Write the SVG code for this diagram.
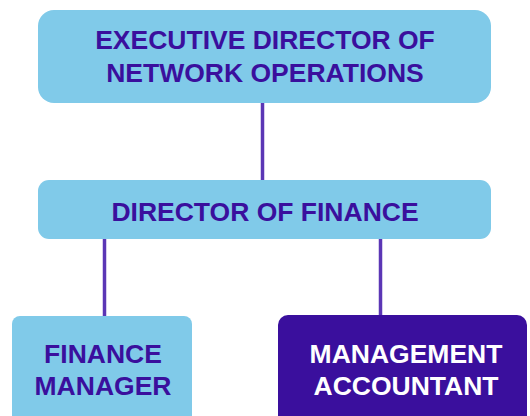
<svg xmlns="http://www.w3.org/2000/svg" width="530" height="416" viewBox="0 0 530 416">
<style>
.light{fill:#80CAE9}
.dark{fill:#3A0F9D}
.t{font-family:"Liberation Sans",Arial,sans-serif;font-weight:bold;font-size:26.5px;text-anchor:middle;fill:#3A0F9D}
.tw{fill:#FFFFFF}
.conn{stroke:#5B36B5;stroke-width:3.5;fill:none}
</style>
<rect width="530" height="416" fill="#FFFFFF"/>
<g id="connectors">
<line class="conn" x1="262.5" y1="102" x2="262.5" y2="181"/>
<line class="conn" x1="104.5" y1="238" x2="104.5" y2="317"/>
<line class="conn" x1="380.5" y1="238" x2="380.5" y2="317"/>
</g>
<g id="exec">
<rect class="light" x="38" y="10" width="453" height="93" rx="16"/>
<text class="t" x="265" y="49">EXECUTIVE DIRECTOR OF</text>
<text class="t" x="265" y="82">NETWORK OPERATIONS</text>
</g>
<g id="director">
<rect class="light" x="38" y="180" width="453" height="59" rx="11"/>
<text class="t" x="265" y="221">DIRECTOR OF FINANCE</text>
</g>
<g id="finance-manager">
<rect class="light" x="12" y="316" width="180" height="110" rx="8"/>
<text class="t" x="103" y="363">FINANCE</text>
<text class="t" x="103" y="395">MANAGER</text>
</g>
<g id="management-accountant">
<rect class="dark" x="278" y="315" width="249" height="111" rx="10"/>
<text class="t tw" x="406" y="363">MANAGEMENT</text>
<text class="t tw" x="406" y="395">ACCOUNTANT</text>
</g>
</svg>
